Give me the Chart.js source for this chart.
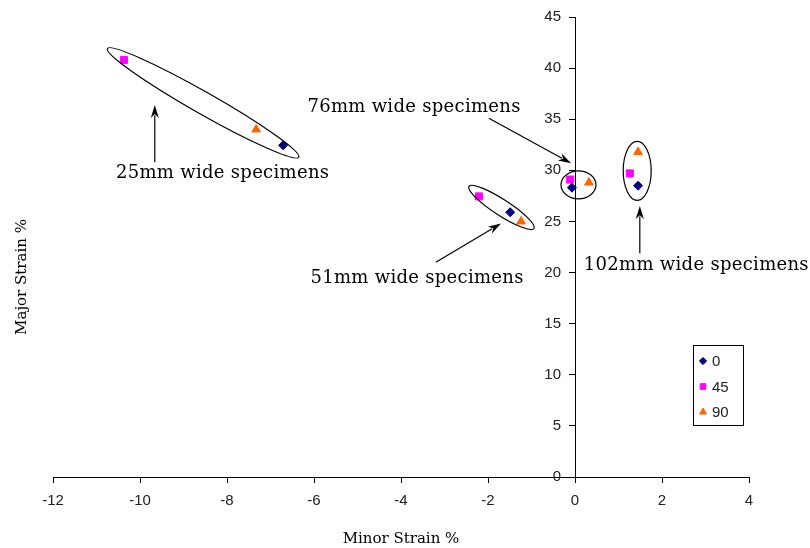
<!DOCTYPE html>
<html>
<head>
<meta charset="utf-8">
<script src="https://cdn.jsdelivr.net/npm/chart.js@4.4.0/dist/chart.umd.min.js"></script>
<style>
  body { margin: 0; background: #fff; }
  #wrap { width: 810px; height: 548px; }
</style>
</head>
<body>
<div id="wrap"><canvas id="chart-canvas"></canvas></div>
<script>
// values (minor strain %, major strain %)
const minor0 = [-6.71, -1.49, -0.07, 1.45];
const major0 = [32.45, 25.9, 28.3, 28.5];
const minor45 = [-10.37, -2.21, -0.11, 1.26];
const major45 = [40.8, 27.45, 29.1, 29.7];
const minor90 = [-7.33, -1.24, 0.32, 1.45];
const major90 = [34.0, 25.0, 28.8, 31.8];
const seriesNames = ['0', '45', '90'];

// group annotations, anchored in data units
const groupNames = ['25mm wide specimens', '76mm wide specimens', '51mm wide specimens', '102mm wide specimens'];
const labelX = [-8.1, -3.7, -3.63, 2.79];
const labelY = [29.7, 36.2, 19.4, 20.7];
const arrowFromX = [-9.66, -1.98, -3.2, 1.49];
const arrowFromY = [30.8, 35.1, 21.0, 21.9];
const arrowToX = [-9.66, -0.09, -1.70, 1.49];
const arrowToY = [36.4, 30.7, 24.8, 26.5];
const ringX = [-8.55, 0.08, -1.69, 1.43];
const ringY = [36.6, 28.58, 26.37, 29.95];

function pts(xs, ys) {
    return xs.map(function(x, i) { return { x: x, y: ys[i] }; });
}

const annotations = {
    id: 'annotations',
    afterDatasetsDraw(chart) {
        const ctx = chart.ctx;
        const sx = chart.scales.x, sy = chart.scales.y;
        ctx.save();

        // y tick labels, left of the axis that sits at x = 0
        const axisX = sx.getPixelForValue(0);
        ctx.fillStyle = '#222';
        ctx.font = '15px "Liberation Sans"';
        ctx.textAlign = 'right';
        ctx.textBaseline = 'middle';
        sy.ticks.forEach(function(t) {
            ctx.fillText(String(t.value), axisX - 14, sy.getPixelForValue(t.value));
        });

        // ellipse radii in px and rotation
        const ringRx = [110, 17.5, 38.7, 14];
        const ringRy = [11, 14, 8, 29.5];
        const ringRot = [29.6, 0, 32.9, 0];
        ctx.strokeStyle = '#000';
        ctx.lineWidth = 1.2;
        ringX.forEach(function(x, i) {
            ctx.beginPath();
            ctx.ellipse(sx.getPixelForValue(x), sy.getPixelForValue(ringY[i]), ringRx[i], ringRy[i], ringRot[i] * Math.PI / 180, 0, Math.PI * 2);
            ctx.stroke();
        });

        // arrows
        ctx.fillStyle = '#000';
        arrowFromX.forEach(function(x, i) {
            const x1 = sx.getPixelForValue(x), y1 = sy.getPixelForValue(arrowFromY[i]);
            const x2 = sx.getPixelForValue(arrowToX[i]), y2 = sy.getPixelForValue(arrowToY[i]);
            const a = Math.atan2(y2 - y1, x2 - x1);
            const len = 13, half = 4;
            ctx.beginPath();
            ctx.moveTo(x1, y1);
            ctx.lineTo(x2 - Math.cos(a) * len * 0.8, y2 - Math.sin(a) * len * 0.8);
            ctx.stroke();
            ctx.beginPath();
            ctx.moveTo(x2, y2);
            ctx.lineTo(x2 - Math.cos(a) * len - Math.sin(a) * half, y2 - Math.sin(a) * len + Math.cos(a) * half);
            ctx.lineTo(x2 - Math.cos(a) * len * 0.7, y2 - Math.sin(a) * len * 0.7);
            ctx.lineTo(x2 - Math.cos(a) * len + Math.sin(a) * half, y2 - Math.sin(a) * len - Math.cos(a) * half);
            ctx.closePath();
            ctx.fill();
        });

        // group labels
        ctx.font = '18px "DejaVu Serif"';
        ctx.letterSpacing = '0.3px';
        ctx.textAlign = 'center';
        groupNames.forEach(function(t, i) {
            ctx.fillText(t, sx.getPixelForValue(labelX[i]), sy.getPixelForValue(labelY[i]));
        });
        ctx.letterSpacing = '0px';

        // y axis title
        ctx.save();
        ctx.translate(22, 277);
        ctx.rotate(-Math.PI / 2);
        ctx.font = '15px "DejaVu Serif"';
        ctx.fillText('Major Strain %', 0, 0);
        ctx.restore();

        // legend box
        const lx = 693, ly = 345, lw = 50, lh = 80;
        ctx.lineWidth = 1;
        ctx.strokeStyle = '#000';
        ctx.strokeRect(lx + 0.5, ly + 0.5, lw, lh);
        ctx.font = '15px "Liberation Sans"';
        ctx.textAlign = 'left';
        chart.data.datasets.forEach(function(ds, i) {
            const yy = ly + 16 + i * 25.5;
            ctx.fillStyle = ds.backgroundColor;
            ctx.strokeStyle = ds.borderColor;
            Chart.helpers.drawPoint(ctx, { pointStyle: ds.pointStyle, radius: ds.pointRadius * 0.8, rotation: 0, borderWidth: 1 }, lx + 10, yy);
            ctx.fillStyle = '#222';
            ctx.fillText(ds.label, lx + 19, yy + 1);
        });
        ctx.restore();
    }
};

new Chart(document.getElementById('chart-canvas').getContext('2d'), {
    type: 'scatter',
    data: {
        datasets: [
            { label: seriesNames[0], data: pts(minor0, major0), pointStyle: 'rectRot', pointRadius: 4.5,
              backgroundColor: '#000080', borderColor: '#000080' },
            { label: seriesNames[1], data: pts(minor45, major45), pointStyle: 'rect', pointRadius: 5,
              backgroundColor: '#ff00ff', borderColor: '#ff00ff' },
            { label: seriesNames[2], data: pts(minor90, major90), pointStyle: 'triangle', pointRadius: 5,
              backgroundColor: '#ff6600', borderColor: '#ff6600' }
        ]
    },
    options: {
        responsive: true,
        maintainAspectRatio: false,
        animation: false,
        layout: { padding: { left: 53, right: 61, top: 17, bottom: 0 } },
        plugins: { legend: { display: false }, tooltip: { enabled: false } },
        scales: {
            x: {
                min: -12, max: 4,
                ticks: { stepSize: 2, padding: 9, color: '#222', font: { family: 'Liberation Sans', size: 15 } },
                grid: { drawOnChartArea: false, tickLength: 6, color: '#000' },
                border: { color: '#000' },
                title: { display: true, text: 'Minor Strain %', color: '#000',
                         font: { family: 'DejaVu Serif', size: 15 }, padding: { top: 11, bottom: 0 } }
            },
            y: {
                position: { x: 0 },
                min: 0, max: 45,
                ticks: { display: false, stepSize: 5 },
                grid: { drawOnChartArea: false, tickLength: 6, color: '#000' },
                border: { color: '#000' }
            }
        }
    },
    plugins: [annotations]
});
</script>
</body>
</html>
